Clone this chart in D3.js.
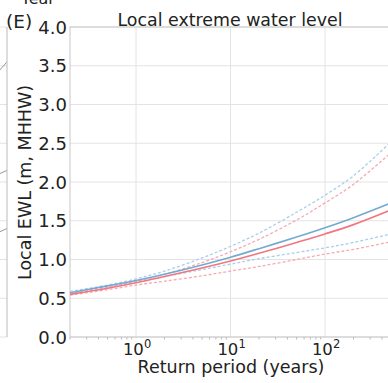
<!DOCTYPE html>
<html>
<head>
  <script src="https://cdn.jsdelivr.net/npm/d3@7"></script>
  <style>
    body { margin: 0; background: #fff; overflow: hidden; }
    text { font-family: "DejaVu Sans", sans-serif; fill: #222; }
  </style>
</head>
<body>
  <main id="container"></main>
  <script type="module">
    // return periods (years)
    const returnPeriods = [0.2, 0.5, 1, 2, 5, 10, 20, 50, 100, 200, 500];

    // local EWL (m, MHHW)
    const blueMedian = [0.57, 0.66, 0.73, 0.81, 0.93, 1.03, 1.14, 1.29, 1.41, 1.54, 1.73];
    const blueUpper  = [0.59, 0.67, 0.75, 0.85, 1.02, 1.17, 1.34, 1.61, 1.83, 2.08, 2.52];
    const blueLower  = [0.57, 0.64, 0.71, 0.78, 0.87, 0.94, 1.01, 1.09, 1.15, 1.22, 1.33];
    const redMedian  = [0.55, 0.63, 0.70, 0.78, 0.89, 0.98, 1.08, 1.22, 1.33, 1.45, 1.64];
    const redUpper   = [0.57, 0.65, 0.72, 0.81, 0.96, 1.10, 1.26, 1.51, 1.73, 1.97, 2.38];
    const redLower   = [0.54, 0.61, 0.67, 0.72, 0.79, 0.85, 0.91, 1.00, 1.07, 1.13, 1.23];

    const yTicks = [0, 0.5, 1, 1.5, 2, 2.5, 3, 3.5, 4];
    const xTicks = [1, 10, 100];
    const xGrid = [1, 10, 100, 1000];

    // fragment of the neighbouring panel on the left (start / end values)
    const leftPanelLines = [[3.3, 3.55], [2.05, 2.15], [1.3, 1.4]];

    const vizWidth = 388;
    const vizHeight = 383;
    const plotLeft = 70, plotTop = 27, plotBottom = 337;
    const decade = 94.5;

    const svg = d3.select("#container")
      .append("svg")
      .attr("width", vizWidth)
      .attr("height", vizHeight)

    const xScale = d3.scaleLog()
      .domain([0.2, 1000])
      .range([plotLeft, plotLeft + (Math.log10(1000) - Math.log10(0.2)) * decade])

    const yScale = d3.scaleLinear()
      .domain([0, 4])
      .range([plotBottom, plotTop])

    const plotRight = xScale.range()[1];

    // left neighbour panel fragment
    const leftX = d3.scaleLinear().domain([0, 1]).range([-10, 7]);
    svg.append("g").selectAll("line")
      .data(yTicks)
      .join("line")
      .attr("x1", 0).attr("x2", 7)
      .attr("y1", d => yScale(d)).attr("y2", d => yScale(d))
      .attr("stroke", "#e3e3e3")
    svg.append("g").selectAll("line")
      .data(leftPanelLines)
      .join("line")
      .attr("x1", leftX(0)).attr("x2", leftX(1))
      .attr("y1", d => yScale(d[0])).attr("y2", d => yScale(d[1]))
      .attr("stroke", "#999")
    svg.append("line")
      .attr("x1", 7).attr("x2", 7)
      .attr("y1", plotTop).attr("y2", plotBottom)
      .attr("stroke", "#bbb")
    svg.append("text")
      .attr("x", 38).attr("y", 4)
      .attr("text-anchor", "middle")
      .attr("font-size", 16)
      .text("Year")

    // grid
    svg.append("g").selectAll("line")
      .data(yTicks)
      .join("line")
      .attr("x1", plotLeft).attr("x2", plotRight)
      .attr("y1", d => yScale(d)).attr("y2", d => yScale(d))
      .attr("stroke", "#e3e3e3")
    svg.append("g").selectAll("line")
      .data(xGrid)
      .join("line")
      .attr("x1", d => xScale(d)).attr("x2", d => xScale(d))
      .attr("y1", plotTop).attr("y2", plotBottom)
      .attr("stroke", "#e3e3e3")

    // spines
    svg.append("rect")
      .attr("x", plotLeft).attr("y", plotTop)
      .attr("width", plotRight - plotLeft).attr("height", plotBottom - plotTop)
      .attr("fill", "none")
      .attr("stroke", "#c8c8c8")

    // minor ticks on x axis
    const minorTicks = xScale.ticks().filter(d => !xGrid.includes(d));
    svg.append("g").selectAll("line")
      .data(minorTicks)
      .join("line")
      .attr("x1", d => xScale(d)).attr("x2", d => xScale(d))
      .attr("y1", plotBottom).attr("y2", plotBottom + 2.5)
      .attr("stroke", "#bbb")

    // y tick labels
    svg.append("g").selectAll("text")
      .data(yTicks)
      .join("text")
      .attr("x", plotLeft - 3)
      .attr("y", d => yScale(d) + 6.5)
      .attr("text-anchor", "end")
      .attr("font-size", 18)
      .text(d => d.toFixed(1))

    // x tick labels 10^n
    const xLab = svg.append("g").selectAll("text")
      .data(xTicks)
      .join("text")
      .attr("x", d => xScale(d) + 1)
      .attr("y", 355)
      .attr("text-anchor", "middle")
      .attr("font-size", 16.5)
    xLab.append("tspan").text("10")
    xLab.append("tspan")
      .attr("dy", -7)
      .attr("font-size", 11.5)
      .text(d => Math.round(Math.log10(d)))

    // curves
    const line = d3.line()
      .x((d, i) => xScale(returnPeriods[i]))
      .y(d => yScale(d))
      .curve(d3.curveCatmullRom)

    const series = [
      { values: blueUpper, color: "#a9cfe9", dash: "3,2", width: 1.3 },
      { values: blueLower, color: "#a9cfe9", dash: "3,2", width: 1.3 },
      { values: redUpper, color: "#f6aab2", dash: "3,2", width: 1.3 },
      { values: redLower, color: "#f6aab2", dash: "3,2", width: 1.3 },
      { values: blueMedian, color: "#72aad2", dash: null, width: 1.6 },
      { values: redMedian, color: "#f0767f", dash: null, width: 1.6 }
    ]

    svg.append("g").selectAll("path")
      .data(series)
      .join("path")
      .attr("fill", "none")
      .attr("stroke", d => d.color)
      .attr("stroke-width", d => d.width)
      .attr("stroke-dasharray", d => d.dash)
      .attr("d", d => line(d.values))

    // titles and labels
    svg.append("text")
      .attr("x", 230).attr("y", 26)
      .attr("text-anchor", "middle")
      .attr("font-size", 17.4)
      .text("Local extreme water level")

    svg.append("text")
      .attr("x", 6).attr("y", 28)
      .attr("font-size", 18.5)
      .text("(E)")

    svg.append("text")
      .attr("x", 231).attr("y", 373)
      .attr("text-anchor", "middle")
      .attr("font-size", 17.5)
      .text("Return period (years)")

    svg.append("text")
      .attr("transform", `translate(31, 182.5) rotate(-90)`)
      .attr("text-anchor", "middle")
      .attr("font-size", 17.5)
      .text("Local EWL (m, MHHW)")
  </script>
</body>
</html>
